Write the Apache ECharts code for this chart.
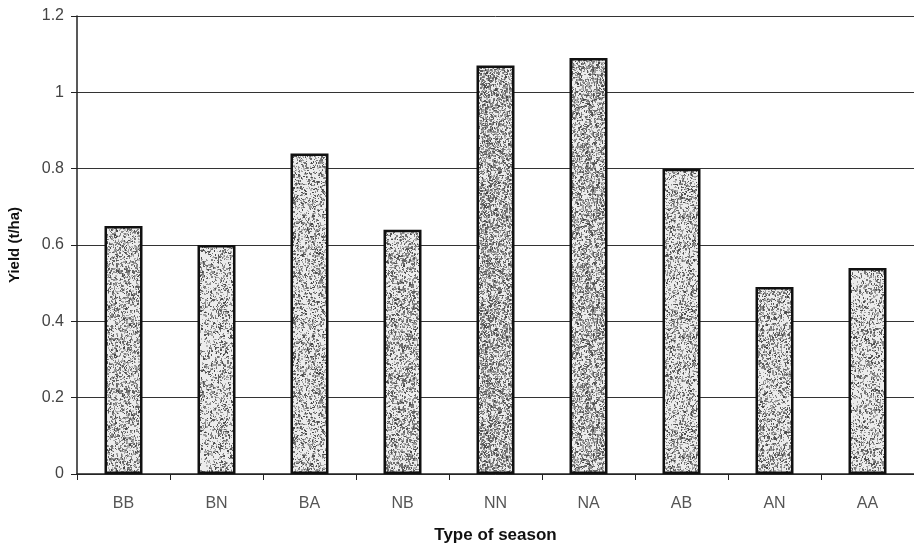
<!DOCTYPE html>
<html>
<head>
<meta charset="utf-8">
<script src="https://cdn.jsdelivr.net/npm/echarts@6/dist/echarts.min.js"></script>
<style>
  html, body { margin: 0; padding: 0; background: #fff; }
  #chart { width: 914px; height: 546px; }
</style>
</head>
<body>
<div id="chart"></div>
<script>
// Season types and mean yield (t/ha)
var seasons = ['BB', 'BN', 'BA', 'NB', 'NN', 'NA', 'AB', 'AN', 'AA'];
var yields = [0.65, 0.60, 0.84, 0.64, 1.07, 1.09, 0.80, 0.49, 0.54];
// Stipple density of each bar's fill (0 = white, 1 = dense)
var shades = [0.55, 0.42, 0.50, 0.58, 0.80, 0.72, 0.50, 0.55, 0.42];

// Speckled grey fill drawn on a small tiling canvas
function grain(density, seed) {
  var c = document.createElement('canvas');
  c.width = 48; c.height = 120;
  var g = c.getContext('2d');
  g.fillStyle = '#ececec';
  g.fillRect(0, 0, c.width, c.height);
  var s = seed * 9301 + 49297;
  function next() { s = (s * 16807) % 2147483647; return s / 2147483647; }
  var n = Math.round(c.width * c.height * density * 0.6);
  for (var i = 0; i < n; i++) {
    var x = Math.floor(next() * c.width);
    var y = Math.floor(next() * c.height);
    var v = Math.floor(70 + next() * 120);
    g.fillStyle = 'rgb(' + v + ',' + v + ',' + v + ')';
    g.fillRect(x, y, 1 + (next() < 0.3 ? 1 : 0), 1 + (next() < 0.4 ? 1 : 0));
  }
  return c;
}

var chart = echarts.init(document.getElementById('chart'), null, { renderer: 'canvas' });
var barData = yields.map(function (v, i) {
  return {
    value: v,
    itemStyle: { color: { image: grain(shades[i], i + 3), repeat: 'repeat' } }
  };
});

chart.setOption({
  animation: false,
  backgroundColor: '#ffffff',
  grid: { left: 77, top: 16, width: 837, height: 458, containLabel: false, outerBoundsMode: 'none' },
  xAxis: {
    type: 'category',
    data: seasons,
    name: 'Type of season',
    nameLocation: 'middle',
    nameGap: 53,
    nameTextStyle: { fontFamily: 'Liberation Sans', fontWeight: 'bold', fontSize: 17, color: '#111' },
    axisLine: { lineStyle: { color: '#222', width: 1.5 } },
    axisTick: { show: true, length: 6, lineStyle: { color: '#222' } },
    axisLabel: { fontFamily: 'Liberation Sans', fontSize: 16, color: '#555', margin: 22 }
  },
  yAxis: {
    type: 'value',
    min: 0,
    max: 1.2,
    interval: 0.2,
    name: 'Yield (t/ha)',
    nameLocation: 'middle',
    nameGap: 55,
    nameRotate: 90,
    nameTextStyle: { fontFamily: 'Liberation Sans', fontWeight: 'bold', fontSize: 15, color: '#111' },
    axisLine: { show: true, lineStyle: { color: '#222', width: 1.5 } },
    axisTick: { show: true, inside: false, length: 6, lineStyle: { color: '#222' } },
    axisLabel: { fontFamily: 'Liberation Sans', fontSize: 16, color: '#444', margin: 13 },
    splitLine: { show: true, lineStyle: { color: '#333', width: 1 } }
  },
  series: [{
    type: 'bar',
    data: barData,
    barWidth: 38,
    itemStyle: { borderColor: '#111', borderWidth: 2.5 }
  }]
});
</script>
</body>
</html>
